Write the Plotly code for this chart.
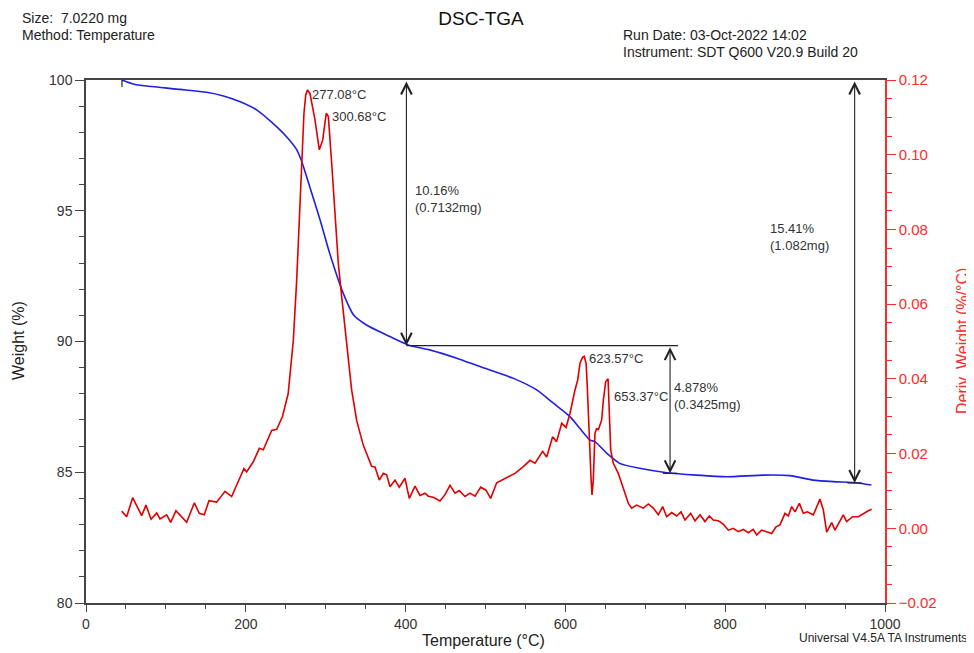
import plotly.graph_objects as go

# ---- Weight (TGA) curve ----
temp_w = [45, 59, 76, 118, 151, 172, 193, 214, 234, 251, 264, 270, 280, 293, 305,
          322, 335, 351, 376, 403, 430, 464, 493, 535, 564, 585, 606, 618, 631, 637,
          652, 668, 693, 727, 764, 802, 848, 881, 910, 935, 964, 983]
weight = [100.0, 99.85, 99.77, 99.64, 99.53, 99.39, 99.17, 98.85, 98.34, 97.83, 97.32, 96.88, 95.92, 94.65, 93.37,
          91.84, 91.01, 90.63, 90.25, 89.87, 89.68, 89.36, 89.04, 88.59, 88.15, 87.64, 87.12, 86.68, 86.23, 86.17,
          85.72, 85.34, 85.15, 84.98, 84.89, 84.83, 84.89, 84.87, 84.70, 84.64, 84.60, 84.51]

# ---- Derivative weight (DTG) curve ----
temp_d = [44.7, 50.9, 58.4, 69.7, 75.1, 81.4, 88.5, 92.6, 101, 106,
          112.6, 126, 135.6, 141.8, 148, 153.9, 163.5, 174, 182.3, 190.6,
          197.7, 201, 209.4, 216.9, 221.9, 232.4, 238.7, 246, 253, 255.3,
          259.5, 263.7, 267, 270, 272.8, 275, 277.1, 280.3, 286.6, 292,
          296.2, 300.7, 303.3, 307.5, 311.6, 315.8, 320, 326.3, 332.5, 338.8,
          347.1, 357.5, 361.7, 367.1, 372.1, 376.3, 380.5, 386.7, 392.1, 399.2,
          404.6, 411.8, 418, 424.3, 428.4, 434.7, 443, 449.3, 455.6, 461.8,
          467.2, 474.3, 480.6, 486.9, 494, 500.6, 506.5, 514, 520.3, 528.5,
          536.9, 547.3, 555.7, 562, 571.5, 576.6, 584, 589, 595.4, 600.8,
          605.8, 612, 615.4, 618.3, 621.6, 623.6, 626, 627.4, 629.5, 632,
          633.3, 634.9, 637, 639.2, 641.2, 645.4, 647.5, 650.4, 653.4, 655,
          656.7, 660, 666.2, 672.5, 678.7, 682.9, 689.2, 697.5, 703.8, 710,
          716.3, 721.7, 726.8, 733, 739.3, 744.7, 749.7, 756.8, 762.2, 768.5,
          774.7, 780.1, 785.1, 791.4, 797.6, 803.9, 810.1, 816.4, 822.6, 828.9,
          835.1, 839.4, 845.6, 851.9, 858.1, 863.6, 868.6, 874.8, 879, 883.2,
          887.4, 892.8, 897.8, 902.8, 910.3, 918.6, 922.8, 927, 933.3, 937.4,
          942.8, 947.8, 952, 959.5, 966.6, 972.9, 979.1, 983.3]
deriv = [0.0046, 0.0031, 0.0082, 0.0034, 0.0062, 0.0024, 0.0041, 0.0025, 0.0036, 0.0016,
         0.0047, 0.0016, 0.0068, 0.0040, 0.0036, 0.0074, 0.0070, 0.0099, 0.0085, 0.0125,
         0.0160, 0.0151, 0.0178, 0.0214, 0.0210, 0.0262, 0.0265, 0.0300, 0.0360, 0.0410,
         0.0504, 0.0665, 0.0843, 0.0977, 0.1111, 0.1160, 0.1173, 0.1164, 0.1093, 0.1013,
         0.1039, 0.1111, 0.1102, 0.0977, 0.0843, 0.0709, 0.0620, 0.0486, 0.0370, 0.0288,
         0.0222, 0.0166, 0.0164, 0.0129, 0.0147, 0.0143, 0.0111, 0.0129, 0.0110, 0.0134,
         0.0080, 0.0113, 0.0088, 0.0094, 0.0086, 0.0083, 0.0073, 0.0090, 0.0115, 0.0094,
         0.0101, 0.0085, 0.0094, 0.0086, 0.0110, 0.0102, 0.0080, 0.0122, 0.0129, 0.0136,
         0.0147, 0.0165, 0.0182, 0.0174, 0.0206, 0.0191, 0.0245, 0.0232, 0.0281, 0.0270,
         0.0308, 0.0370, 0.0397, 0.0442, 0.0458, 0.0460, 0.0440, 0.0379, 0.0254, 0.0138,
         0.0089, 0.0129, 0.0254, 0.0268, 0.0263, 0.0290, 0.0343, 0.0392, 0.0400, 0.0308,
         0.0210, 0.0174, 0.0147, 0.0107, 0.0067, 0.0054, 0.0062, 0.0054, 0.0065, 0.0054,
         0.0036, 0.0058, 0.0031, 0.0042, 0.0033, 0.0044, 0.0022, 0.0040, 0.0020, 0.0036,
         0.0018, 0.0033, 0.0022, 0.0020, 0.0011, -0.0005, 0.0000, -0.0009, -0.0003, -0.0012,
         -0.0003, -0.0018, -0.0005, -0.0009, -0.0014, 0.0004, 0.0009, 0.0040, 0.0033, 0.0058,
         0.0044, 0.0067, 0.0040, 0.0044, 0.0036, 0.0078, 0.0049, -0.0010, 0.0015, -0.0005,
         0.0015, 0.0036, 0.0018, 0.0031, 0.0031, 0.0040, 0.0047, 0.0051]

# ---- Peak labels ----
peak_T = [280.0, 305.0, 627.0, 658.0]
peak_W = [99.43, 98.62, 89.36, 87.89]
peak_text = ["277.08°C", "300.68°C", "623.57°C", "653.37°C"]

# ---- Step-change (weight loss) annotations ----
step_T = [401, 731, 962]
step_top = [100.0, 89.84, 100.0]
step_bottom = [89.84, 84.96, 84.59]
step_text = ["10.16%<br>(0.7132mg)", "4.878%<br>(0.3425mg)", "15.41%<br>(1.082mg)"]
step_text_T = [409, 734, 853]
step_text_W = [95.46, 87.93, 94.0]
limit_line_T = [401, 741]  # horizontal reference at the end of step 1
start_T = 45

AX = "#444444"
RED = "#ff2a2a"
FONT = "Liberation Sans, Arial, sans-serif"

# page body has an 8px margin: figure placed at (8, 8) in the window
OFF = 8
W_FIG, H_FIG = 974 - OFF, 653 - OFF
PLOT_L, PLOT_R, PLOT_T, PLOT_B = 86, 885, 80, 603  # plot area in window pixels

fig = go.Figure()
fig.add_trace(go.Scatter(x=temp_w, y=weight, mode="lines",
                         line=dict(color="#1f1fe6", width=1.6, shape="spline", smoothing=0.6),
                         yaxis="y", showlegend=False, hoverinfo="skip"))
fig.add_trace(go.Scatter(x=temp_d, y=deriv, mode="lines",
                         line=dict(color="#e00000", width=1.6),
                         yaxis="y2", showlegend=False, hoverinfo="skip"))

shapes = []
shapes.append(dict(type="line", xref="x", yref="y", x0=limit_line_T[0], x1=limit_line_T[1],
                   y0=step_bottom[0], y1=step_bottom[0], line=dict(color="#222", width=1.2)))
shapes.append(dict(type="line", xref="x", yref="y", x0=start_T, x1=start_T,
                   y0=step_top[0] - 0.27, y1=step_top[0] + 0.27, line=dict(color="#222", width=1.2)))
for t, w in zip(step_T[1:], step_bottom[1:]):
    shapes.append(dict(type="line", xref="x", yref="y", x0=t - 9, x1=t + 9,
                       y0=w, y1=w, line=dict(color="#222", width=1.2)))

annotations = []
for t, top, bot in zip(step_T, step_top, step_bottom):
    annotations.append(dict(x=t, y=bot, ax=t, ay=top, xref="x", yref="y", axref="x", ayref="y",
                            showarrow=True, arrowhead=5, startarrowhead=5, arrowside="end+start",
                            arrowsize=1.9, startarrowsize=1.9, arrowwidth=1.1, arrowcolor="#222",
                            standoff=0, startstandoff=0, text=""))
for t, w, s in zip(step_text_T, step_text_W, step_text):
    annotations.append(dict(x=t, y=w, xref="x", yref="y", text=s, showarrow=False,
                            xanchor="left", yanchor="middle", align="left",
                            font=dict(family=FONT, size=13, color="#333")))
for t, w, s in zip(peak_T, peak_W, peak_text):
    annotations.append(dict(x=t, y=w, xref="x", yref="y", text=s, showarrow=False,
                            xanchor="left", yanchor="middle",
                            font=dict(family=FONT, size=13, color="#333")))

# window pixel -> paper coords
def px(xp):
    return (xp - PLOT_L) / float(PLOT_R - PLOT_L)

def py(yp):
    return (PLOT_B - yp) / float(PLOT_B - PLOT_T)

hdr = [("Size:\u00a0\u00a07.0220 mg", 20, 18, "left", 14),
       ("Method: Temperature", 20, 35, "left", 14),
       ("Run Date: 03-Oct-2022 14:02", 621, 35, "left", 14),
       ("Instrument: SDT Q600 V20.9 Build 20", 621, 52, "left", 14),
       ("Universal V4.5A TA Instruments", 969, 638, "right", 12)]
for s, xp, yp, anc, fs in hdr:
    annotations.append(dict(x=px(xp), y=py(yp), xref="paper", yref="paper", text=s, showarrow=False,
                            xanchor=anc, yanchor="middle", font=dict(family=FONT, size=fs, color="#222")))

annotations.append(dict(x=px(483), y=py(640), xref="paper", yref="paper", text="Temperature (°C)",
                        showarrow=False, xanchor="center", yanchor="middle",
                        font=dict(family=FONT, size=16, color="#222")))
annotations.append(dict(x=px(18), y=py(341), xref="paper", yref="paper", text="Weight (%)",
                        showarrow=False, textangle=-90, xanchor="center", yanchor="middle",
                        font=dict(family=FONT, size=16, color="#222")))
annotations.append(dict(x=px(962), y=py(341), xref="paper", yref="paper", text="Deriv. Weight (%/°C)",
                        showarrow=False, textangle=-90, xanchor="center", yanchor="middle",
                        font=dict(family=FONT, size=16, color=RED)))

fig.update_layout(
    width=W_FIG, height=H_FIG,
    margin=dict(l=PLOT_L - OFF, r=(OFF + W_FIG) - PLOT_R, t=PLOT_T - OFF, b=(OFF + H_FIG) - PLOT_B),
    paper_bgcolor="white", plot_bgcolor="white",
    title=dict(text="DSC-TGA", x=(481 - OFF) / W_FIG, y=1 - (18 - OFF) / H_FIG,
               xref="container", yref="container",
               xanchor="center", yanchor="middle", font=dict(family=FONT, size=19, color="#111")),
    font=dict(family=FONT, size=13, color="#333"),
    xaxis=dict(range=[0, 1000], dtick=200, tick0=0, showgrid=False, zeroline=False,
               showline=True, linecolor=AX, linewidth=1.5, mirror=True,
               ticks="outside", ticklen=7, tickcolor=AX, tickwidth=1.2,
               tickfont=dict(family=FONT, size=14, color="#333"),
               minor=dict(dtick=50, ticks="outside", ticklen=4, tickcolor=AX, tickwidth=1)),
    yaxis=dict(range=[80, 100], dtick=5, tick0=80, showgrid=False, zeroline=False,
               showline=True, linecolor=AX, linewidth=1.5,
               ticks="outside", ticklen=9, tickcolor=AX, tickwidth=1.2,
               tickfont=dict(family=FONT, size=14, color="#333"),
               minor=dict(dtick=1, ticks="outside", ticklen=5, tickcolor=AX, tickwidth=1)),
    yaxis2=dict(range=[-0.02, 0.12], dtick=0.02, tick0=0, overlaying="y", side="right", anchor="x",
                showgrid=False, zeroline=False, tickformat=".2f",
                showline=True, linecolor=RED, linewidth=1.5,
                ticks="outside", ticklen=9, tickcolor=RED, tickwidth=1.2,
                tickfont=dict(family=FONT, size=15, color=RED),
                minor=dict(dtick=0.005, ticks="outside", ticklen=5, tickcolor=RED, tickwidth=1)),
    shapes=shapes,
    annotations=annotations,
)

fig.write_html("out.html")
